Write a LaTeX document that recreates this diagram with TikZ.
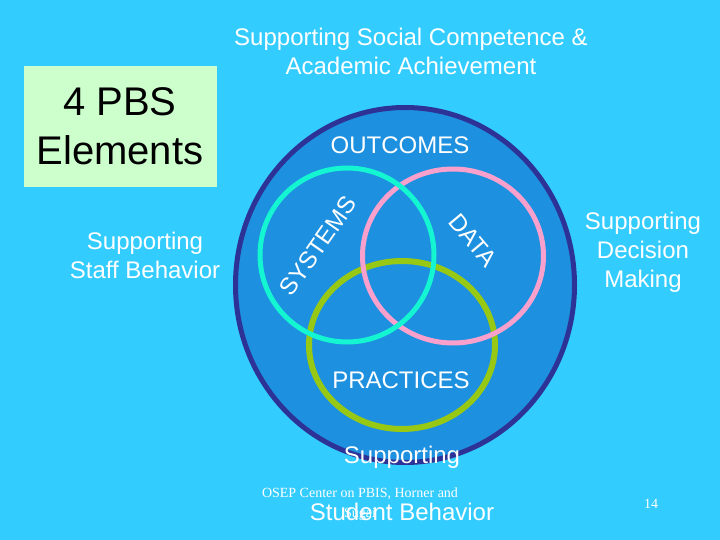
\documentclass[tikz,border=0pt]{standalone}
\usepackage{fontspec}
\setmainfont{Liberation Sans}
\newfontfamily\footfont{Liberation Serif}
\usetikzlibrary{shapes.geometric}
\definecolor{sky}{RGB}{51,204,255}
\definecolor{pool}{RGB}{30,144,224}
\definecolor{navyring}{RGB}{45,50,150}
\definecolor{aquaring}{RGB}{20,245,210}
\definecolor{pinkring}{RGB}{250,160,205}
\definecolor{limering}{RGB}{150,200,20}
\definecolor{mint}{RGB}{204,255,204}
\begin{document}
\begin{tikzpicture}[x=1pt,y=-1pt,
  ring/.style = {ellipse, draw, line width=5pt, inner sep=0pt},
  lbl/.style = {text=white, align=center, inner sep=0pt,
    font=\fontsize{24}{29}\selectfont},
  foot/.style = {text=white, align=center, inner sep=0pt,
    font=\footfont\fontsize{14}{20}\selectfont}]
\useasboundingbox[fill=sky] (0,0) rectangle (720,540);
\node[ring, draw=navyring, fill=pool, minimum width=339pt, minimum height=355pt] (whole) at (405,285) {};
\node[ring, draw=limering, line width=6pt, minimum width=186pt, minimum height=168pt] (practices) at (402,345) {};
\node[ring, draw=pinkring, minimum width=181pt, minimum height=174pt] (data) at (453,256) {};
\node[ring, draw=aquaring, minimum width=174pt, minimum height=174pt] (systems) at (347,255) {};
\node[fill=mint, minimum width=193pt, minimum height=121pt] (box) at (120.5,126.5) {};
\node[inner sep=0pt, align=center, font=\fontsize{40}{49}\selectfont] (title) at (120,126) {4 PBS\\Elements};
\node[lbl] (goal) at (411,51) {Supporting Social Competence \&\\Academic Achievement};
\node[lbl] (outcomes) at (400,145) {OUTCOMES};
\node[lbl] (practicestxt) at (401,380) {PRACTICES};
\node[lbl, rotate=55] (systemstxt) at (318,246) {SYSTEMS};
\node[lbl, rotate=-50] (datatxt) at (473,240) {DATA};
\node[lbl] (staff) at (145,255) {Supporting\\Staff Behavior};
\node[lbl] (decision) at (643,252) {Supporting\\Decision\\Making};
\node[lbl, font=\fontsize{24}{57}\selectfont] (student) at (402,483) {Supporting\\Student Behavior};
\node[foot] (credit) at (360,504) {OSEP Center on PBIS, Horner and\\Sugai};
\node[foot] (page) at (651,504) {14};
\end{tikzpicture}
\end{document}
